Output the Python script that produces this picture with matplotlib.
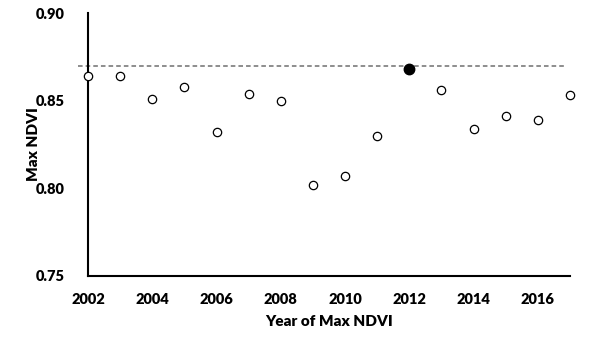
import matplotlib
matplotlib.use("Agg")
import matplotlib.pyplot as plt

# ── Data ─────────────────────────────────────────────────────────────────────
years = [2002, 2003, 2004, 2005, 2006, 2007, 2008, 2009,
         2010, 2011, 2012, 2013, 2014, 2015, 2016, 2017]
max_ndvi = [0.864, 0.864, 0.851, 0.858, 0.832, 0.854, 0.850, 0.802,
            0.807, 0.830, 0.868, 0.856, 0.834, 0.841, 0.839, 0.853]
peak_year = 2012
reference_level = 0.8696
reference_span = [2001.7, 2016.8]

x_ticks = [2002, 2004, 2006, 2008, 2010, 2012, 2014, 2016]
y_ticks = [0.75, 0.80, 0.85, 0.90]

plt.rcParams["font.family"] = ["Lato", "DejaVu Sans"]

fig = plt.figure(figsize=(6.0, 3.44), dpi=100)
ax = fig.add_axes([0.1467, 0.198, 0.8033, 0.764])

# reference line
ax.plot(reference_span, [reference_level, reference_level], color="#6f6f6f",
        lw=1.1, ls=(0, (3, 2)), clip_on=False, zorder=1)

# open markers for all years except the peak
open_x = [y for y in years if y != peak_year]
open_y = [v for y, v in zip(years, max_ndvi) if y != peak_year]
ax.plot(open_x, open_y, "o", ms=6, mfc="white", mec="black", mew=0.9,
        ls="none", clip_on=False, zorder=3)

peak_val = max_ndvi[years.index(peak_year)]
ax.plot([peak_year], [peak_val], "o", ms=7.5, mfc="black", mec="black",
        ls="none", clip_on=False, zorder=4)

ax.set_xlim(2002, 2017)
ax.set_ylim(0.75, 0.90)
ax.set_xticks(x_ticks)
ax.set_xticklabels([str(t) for t in x_ticks])
ax.set_yticks(y_ticks)
ax.set_yticklabels([f"{t:.2f}" for t in y_ticks])
ax.tick_params(length=0, labelsize=10.5, pad=12)
ax.tick_params(axis="y", pad=17)
for lbl in ax.get_xticklabels() + ax.get_yticklabels():
    lbl.set_fontweight("heavy")

for side in ["top", "right"]:
    ax.spines[side].set_visible(False)
for side in ["left", "bottom"]:
    ax.spines[side].set_linewidth(1.5)
    ax.spines[side].set_color("black")

ax.set_xlabel("Year of Max NDVI", fontsize=11, fontweight="heavy", labelpad=7)
ax.set_ylabel("Max NDVI", fontsize=11, fontweight="heavy", labelpad=-3)

fig.savefig("out.png", dpi=100)
